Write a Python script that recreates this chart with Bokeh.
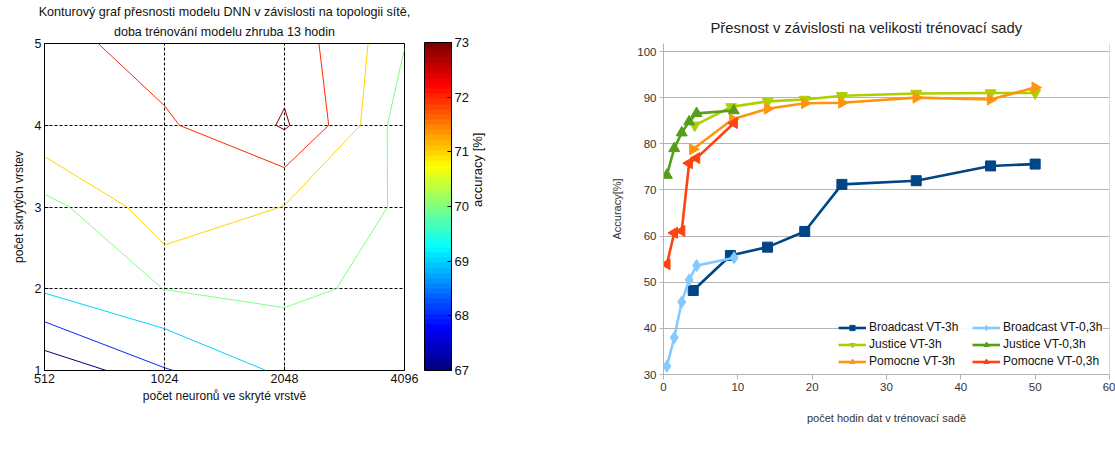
import numpy as np
from bokeh.plotting import figure
from bokeh.layouts import row
from bokeh.models import (ColorBar, LinearColorMapper, FixedTicker, Title, LinearAxis, Span,
                          Range1d, Legend, LegendItem)
from bokeh.embed import file_html
from bokeh.resources import INLINE

# ---------------- data: contour chart ----------------
neurons = [512, 1024, 2048, 4096]
layers = [1, 2, 3, 4, 5]
acc_1_layer = [66.30, 67.93, 69.27, 69.45]
acc_2_layers = [69.15, 70.02, 70.22, 69.59]
acc_3_layers = [69.66, 71.85, 70.96, 69.78]
acc_4_layers = [71.83, 71.89, 73.12, 69.27]
acc_5_layers = [71.80, 72.35, 72.55, 70.05]
contour_levels = [67, 68, 69, 70, 71, 72, 73]
colorbar_ticks = [67, 68, 69, 70, 71, 72, 73]
layer_ticks = [1, 2, 3, 4, 5]

# ---------------- data: training-set chart ----------------
hour_ticks = [0, 10, 20, 30, 40, 50, 60]
accuracy_ticks = [30, 40, 50, 60, 70, 80, 90, 100]
broadcast_3h_x = [4, 9, 14, 19, 24, 34, 44, 50]
broadcast_3h_y = [48.2, 55.8, 57.6, 61.0, 71.2, 72.0, 75.2, 75.6]
broadcast_03h_x = [0.45, 1.45, 2.45, 3.45, 4.45, 9.5]
broadcast_03h_y = [31.8, 38.0, 45.7, 50.5, 53.6, 55.3]
justice_3h_x = [4.2, 9.1, 14, 19, 24, 34, 44, 50]
justice_3h_y = [84.0, 88.0, 89.2, 89.6, 90.4, 90.9, 91.0, 91.0]
justice_03h_x = [0.45, 1.45, 2.45, 3.45, 4.45, 9.45]
justice_03h_y = [73.2, 79.0, 82.4, 84.8, 86.6, 87.2]
pomocne_3h_x = [3.95, 9.3, 14, 19, 24, 34, 44, 50]
pomocne_3h_y = [78.8, 85.3, 87.6, 88.8, 88.9, 90.0, 89.6, 92.2]
pomocne_03h_x = [0.45, 1.45, 2.45, 3.45, 4.45, 9.5]
pomocne_03h_y = [53.9, 60.7, 61.1, 75.8, 76.9, 84.5]

FONT = "Liberation Sans"


def jet(t):
    def c(v):
        return int(round(255 * min(max(v, 0.0), 1.0)))
    return "#%02x%02x%02x" % (c(1.5 - abs(4 * t - 3)), c(1.5 - abs(4 * t - 2)), c(1.5 - abs(4 * t - 1)))


jet64 = [jet(i / 63) for i in range(64)]
lo, hi = colorbar_ticks[0], colorbar_ticks[-1]
level_colors = [jet((lv - lo) / (hi - lo)) for lv in contour_levels]

# ---------------- left: contour ----------------
left = figure(x_axis_type="log", x_range=Range1d(512, 4096), y_range=Range1d(1, 5),
              frame_width=360, frame_height=327, min_border_left=44, min_border_top=43,
              min_border_right=188, min_border_bottom=40,
              output_backend="svg", toolbar_location=None)
left.title = None
z = np.array([acc_1_layer, acc_2_layers, acc_3_layers, acc_4_layers, acc_5_layers])
left.contour(np.array(neurons, dtype=float), np.array(layers, dtype=float), z,
             levels=contour_levels, line_color=level_colors, line_width=1)

for ax in (left.xaxis[0], left.yaxis[0]):
    ax.major_tick_in = 4
    ax.major_tick_out = 0
    ax.minor_tick_line_color = None
    ax.major_tick_line_color = "black"
    ax.axis_line_color = None
    ax.major_label_text_font = FONT
    ax.major_label_text_font_size = "12.5px"
    ax.major_label_text_color = "#111111"
    ax.axis_label_text_font = FONT
    ax.axis_label_text_font_size = "12px"
    ax.axis_label_text_font_style = "normal"
    ax.axis_label_text_color = "#111111"
left.xaxis.ticker = FixedTicker(ticks=neurons)
left.xaxis.major_label_overrides = {n: str(n) for n in neurons}
left.yaxis.ticker = FixedTicker(ticks=layer_ticks)
left.xaxis.major_label_standoff = 3
left.yaxis.major_label_standoff = 3
left.xaxis.axis_label = "počet neuronů ve skryté vrstvě"
left.yaxis.axis_label = "počet skrytých vrstev"
left.xaxis.axis_label_standoff = 3
left.yaxis.axis_label_standoff = 6
left.grid.grid_line_color = "black"
left.grid.grid_line_dash = "3 2"
left.grid.grid_line_width = 1
left.outline_line_color = "black"
left.outline_line_alpha = 1

cb = ColorBar(color_mapper=LinearColorMapper(palette=jet64, low=lo, high=hi),
              ticker=FixedTicker(ticks=colorbar_ticks), width=27, height=328,
              location=(20, 0), padding=0, margin=0,
              bar_line_color="black", major_tick_line_color="black",
              major_tick_in=4, major_tick_out=0, label_standoff=3,
              major_label_text_font=FONT, major_label_text_font_size="13px",
              major_label_text_color="#111111", background_fill_color=None)
left.add_layout(cb, "right")
# invisible helper axis that only carries the colour-bar caption (reads bottom-to-top)
left.extra_y_ranges = {"cb": Range1d(0, 1)}
cb_axis = LinearAxis(y_range_name="cb", axis_label="accuracy [%]", ticker=FixedTicker(ticks=[]),
                     bounds=(0, 0.77),
                     axis_line_color=None, major_tick_line_color=None, minor_tick_line_color=None,
                     axis_label_text_font=FONT, axis_label_text_font_size="13px",
                     axis_label_text_font_style="normal", axis_label_text_color="#111111",
                     axis_label_standoff=6, axis_label_orientation=np.pi / 2)
left.add_layout(cb_axis, "right")

t2 = Title(text="doba trénování modelu zhruba 13 hodin", align="center", text_font=FONT,
           text_font_size="12.5px", text_font_style="normal", text_color="#111111", standoff=9)
t1 = Title(text="Konturový graf přesnosti modelu DNN v závislosti na topologii sítě,", align="center",
           text_font=FONT, text_font_size="12.6px", text_font_style="normal", text_color="#111111", standoff=0)
left.add_layout(t2, "above")
left.add_layout(t1, "above")

# ---------------- right: accuracy vs training hours ----------------
# frames of a row share their top edge, so the top of this frame lies 8 px above the "100" line
y_top = accuracy_ticks[-1] + (accuracy_ticks[-1] - accuracy_ticks[0]) * 8 / 323
right = figure(x_range=Range1d(hour_ticks[0], hour_ticks[-1]), y_range=Range1d(accuracy_ticks[0], y_top),
               frame_width=446, frame_height=331, min_border_left=71, min_border_top=43,
               min_border_right=6, min_border_bottom=0,
               output_backend="svg", toolbar_location=None)
right.title.text = "Přesnost v závislosti na velikosti trénovací sady"
right.title.align = "left"
right.title.offset = 47
right.title.text_font = FONT
right.title.text_font_size = "14.8px"
right.title.text_font_style = "normal"
right.title.text_color = "#222222"
right.title.standoff = 15

for ax in (right.xaxis[0], right.yaxis[0]):
    ax.major_tick_in = 0
    ax.minor_tick_line_color = None
    ax.major_tick_line_color = "#b3b3b3"
    ax.axis_line_color = "#b3b3b3"
    ax.major_label_text_font = FONT
    ax.major_label_text_font_size = "11.5px"
    ax.major_label_text_color = "#333333"
    ax.axis_label_text_font = FONT
    ax.axis_label_text_font_style = "normal"
    ax.axis_label_text_color = "#333333"
    ax.axis_label_text_font_size = "11px"
right.xaxis.ticker = FixedTicker(ticks=hour_ticks)
right.yaxis.ticker = FixedTicker(ticks=accuracy_ticks)
right.xaxis.major_tick_out = 5
right.yaxis.major_tick_out = 4
right.xaxis.major_label_standoff = 3
right.yaxis.major_label_standoff = 3
right.xaxis.axis_label = "počet hodin dat v trénovací sadě"
right.yaxis.axis_label = "Accuracy[%]"
right.xaxis.axis_label_standoff = 18
right.yaxis.axis_label_standoff = 11
right.xgrid.grid_line_color = None
right.ygrid.grid_line_color = "#b3b3b3"
right.outline_line_color = None
right.add_layout(Span(location=hour_ticks[-1], dimension="height", line_color="#b3b3b3", line_width=1))

series = [
    ("Broadcast VT-3h", broadcast_3h_x, broadcast_3h_y, "#004586", "square", 10, 0.0),
    ("Broadcast VT-0,3h", broadcast_03h_x, broadcast_03h_y, "#83caff", "diamond", 12, 0.0),
    ("Justice VT-3h", justice_3h_x, justice_3h_y, "#aecf00", "inverted_triangle", 11, 0.0),
    ("Justice VT-0,3h", justice_03h_x, justice_03h_y, "#579d1c", "triangle", 11, 0.0),
    ("Pomocne VT-3h", pomocne_3h_x, pomocne_3h_y, "#ff950e", "triangle", 11, -np.pi / 2),
    ("Pomocne VT-0,3h", pomocne_03h_x, pomocne_03h_y, "#ff420e", "triangle", 11, np.pi / 2),
]
items = []
for name, xs, ys, col, mk, sz, ang in series:
    ln = right.line(xs, ys, line_color=col, line_width=2.6)
    sc = right.scatter(xs, ys, marker=mk, size=sz, angle=ang, fill_color=col, line_color=col)
    items.append(LegendItem(label=name, renderers=[ln, sc]))

legend = Legend(items=items, orientation="horizontal", ncols=2, location="bottom_right",
                border_line_color=None, background_fill_color="white", background_fill_alpha=0.9,
                margin=6, padding=4, spacing=3, glyph_width=28, glyph_height=13,
                label_height=13, label_width=100, label_standoff=3,
                label_text_font=FONT, label_text_font_size="12px", label_text_color="#111111")
right.add_layout(legend)

layout = row(left, right)
open("out.html", "w").write(file_html(layout, INLINE))
